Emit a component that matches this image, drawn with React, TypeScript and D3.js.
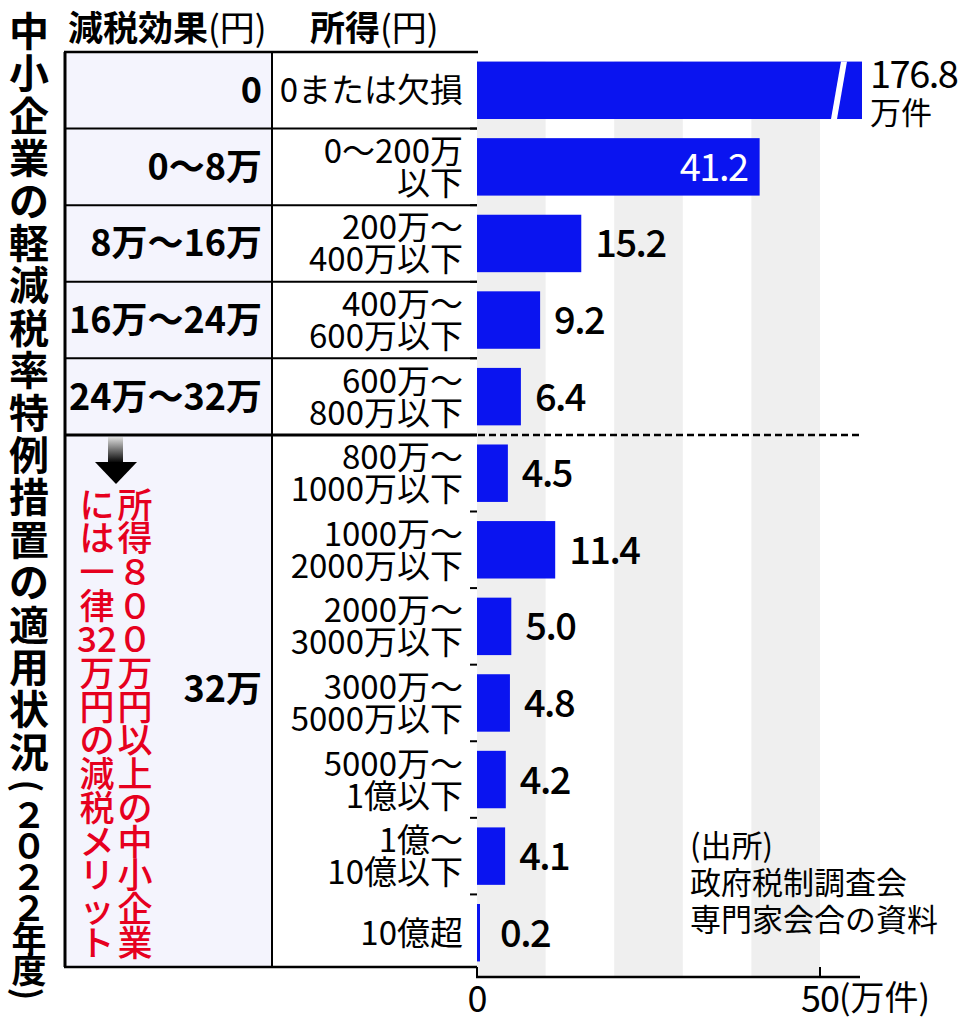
import React from 'react';
import * as d3 from 'd3';

// chart data
const incomeLabels: string[][] = [
  ['0または欠損'],
  ['0〜200万', '以下'],
  ['200万〜', '400万以下'],
  ['400万〜', '600万以下'],
  ['600万〜', '800万以下'],
  ['800万〜', '1000万以下'],
  ['1000万〜', '2000万以下'],
  ['2000万〜', '3000万以下'],
  ['3000万〜', '5000万以下'],
  ['5000万〜', '1億以下'],
  ['1億〜', '10億以下'],
  ['10億超'],
];
const counts = [176.8, 41.2, 15.2, 9.2, 6.4, 4.5, 11.4, 5.0, 4.8, 4.2, 4.1, 0.2];
const effectLabels = ['0', '0〜8万', '8万〜16万', '16万〜24万', '24万〜32万'];
const mergedEffect = '32万';
const xTicks = [0, 50];
const bandStops = [0, 10, 20, 30, 40, 50];
const titleMain = '中小企業の軽減税率特例措置の適用状況';
const titleSub = ['(', '２', '０', '２', '２', '年', '度', ')'];
const noteRight = ['所', '得', '８', '０', '０', '万', '円', '以', '上', 'の', '中', '小', '企', '業'];
const noteLeft = ['に', 'は', '一', '律', '32', '万', '円', 'の', '減', '税', 'メ', 'リ', 'ッ', 'ト'];
const sourceLines = ['(出所)', '政府税制調査会', '専門家会合の資料'];

const FONT = "'Noto Sans CJK JP', 'Noto Sans', sans-serif";
const BLUE = '#0a14f0';
const RED = '#e6001e';

export default function App() {
  const W = 974;
  const H = 1024;
  const tableL = 65, tableM = 272, tableR = 478, tableT = 52, tableB = 967;
  const axisY = 977;
  const axisEnd = 860;

  const x = d3.scaleLinear().domain([0, 50]).range([477, 820]);
  const xClip = x.invert(862);
  const y = d3
    .scaleBand<number>()
    .domain(d3.range(counts.length))
    .range([52, 971])
    .paddingInner(0.25)
    .paddingOuter(0.125);
  const step = y.step();
  const bw = y.bandwidth();
  const edge = (i: number) => tableT + i * step;
  const mid = (i: number) => (y(i) as number) + bw / 2;

  // title layout: one glyph per cell, parentheses turned sideways
  const titleX = 29;
  const mainPitch = 42.4;
  const subPos: { ch: string; cy: number }[] = [];
  let cursor = 775;
  titleSub.forEach((ch) => {
    const adv = ch === '(' || ch === ')' ? 22 : 31;
    subPos.push({ ch, cy: cursor + adv / 2 });
    cursor += adv;
  });

  const notePitch = 33.7;
  const noteTop = 502;

  return (
    <div style={{ position: 'absolute', left: 0, top: 0 }}>
      <svg width={W} height={H} style={{ display: 'block', background: '#fff' }} fontFamily={FONT}>
        <defs>
          <linearGradient id="arrowShaft" x1="0" y1="0" x2="0" y2="1">
            <stop offset="0%" stopColor="#e0e0e0" />
            <stop offset="100%" stopColor="#000" />
          </linearGradient>
        </defs>

        {/* vertical title */}
        {titleMain.split('').map((ch, i) => (
          <text key={'t' + i} x={titleX} y={29 + i * mainPitch} fontSize={40} fontWeight={700}
            textAnchor="middle" dominantBaseline="central">{ch}</text>
        ))}
        {subPos.map((d, i) => {
          const paren = d.ch === '(' || d.ch === ')';
          return (
            <text key={'s' + i} x={titleX} y={d.cy} fontSize={paren ? 34 : 35}
              fontWeight={700} textAnchor="middle" dominantBaseline="central"
              transform={paren ? `rotate(90 ${titleX} ${d.cy})` : undefined}>{d.ch}</text>
          );
        })}

        {/* headers */}
        <text x={68} y={41} fontSize={35}>
          <tspan fontWeight={700}>減税効果</tspan><tspan>(円)</tspan>
        </text>
        <text x={310} y={41} fontSize={35}>
          <tspan fontWeight={700}>所得</tspan><tspan>(円)</tspan>
        </text>

        {/* table */}
        <rect x={tableL} y={tableT} width={tableM - tableL} height={tableB - tableT} fill="#f4f4fd" />
        {[1, 2, 3, 4].map((i) => (
          <line key={'h' + i} x1={tableL} x2={tableR} y1={edge(i)} y2={edge(i)} stroke="#000" strokeWidth={2} />
        ))}
        <line x1={tableL} x2={tableR} y1={edge(5)} y2={edge(5)} stroke="#000" strokeWidth={3} />
        <line x1={tableL - 1} x2={tableR} y1={tableT} y2={tableT} stroke="#000" strokeWidth={2.5} />
        <line x1={tableL - 1} x2={tableR} y1={tableB} y2={tableB} stroke="#000" strokeWidth={2.5} />
        <line x1={tableL} x2={tableL} y1={tableT} y2={tableB} stroke="#000" strokeWidth={3} />
        <line x1={tableM} x2={tableM} y1={tableT} y2={tableB} stroke="#000" strokeWidth={2} />

        {effectLabels.map((t, i) => (
          <text key={'e' + i} x={tableM - 10} y={mid(i) + 13} fontSize={36} fontWeight={700} textAnchor="end">{t}</text>
        ))}
        <text x={tableM - 10} y={(edge(5) + tableB) / 2 + 1} fontSize={36} fontWeight={700} textAnchor="end">{mergedEffect}</text>

        {incomeLabels.map((lines, i) =>
          lines.length === 1 ? (
            <text key={'i' + i} x={463} y={mid(i) + 12} fontSize={33} textAnchor="end">{lines[0]}</text>
          ) : (
            <g key={'i' + i}>
              <text x={463} y={mid(i) - 16 + 12} fontSize={33} textAnchor="end">{lines[0]}</text>
              <text x={463} y={mid(i) + 16 + 12} fontSize={33} textAnchor="end">{lines[1]}</text>
            </g>
          )
        )}

        {/* arrow */}
        <rect x={108} y={437} width={15} height={26} fill="url(#arrowShaft)" />
        <polygon points="95,462 137,462 116,484" fill="#000" />

        {/* red vertical note */}
        {noteRight.map((ch, i) => (
          <text key={'nr' + i} x={135} y={noteTop + i * notePitch} fontSize={35} fontWeight={500} fill={RED}
            textAnchor="middle" dominantBaseline="central">{ch}</text>
        ))}
        {noteLeft.map((ch, i) => (
          <text key={'nl' + i} x={97} y={noteTop + i * notePitch} fontSize={35} fontWeight={500} fill={RED}
            textAnchor="middle" dominantBaseline="central">{ch}</text>
        ))}

        {/* gray bands */}
        {[0, 2, 4].map((k) => (
          <rect key={'b' + k} x={x(bandStops[k])} y={y(0) as number}
            width={x(bandStops[k + 1]) - x(bandStops[k])} height={axisY - (y(0) as number)} fill="#efefef" />
        ))}

        {/* y ticks */}
        {d3.range(counts.length).map((i) => (
          <line key={'yt' + i} x1={470} x2={477} y1={edge(i)} y2={edge(i)} stroke="#000" strokeWidth={2} />
        ))}

        {/* bars */}
        {counts.map((v, i) => {
          const w = Math.max(3, x(Math.min(v, xClip)) - x(0));
          return <rect key={'bar' + i} x={x(0)} y={y(i) as number} width={w} height={bw} fill={BLUE} />;
        })}
        {/* break mark on the first bar */}
        <polygon
          points={`${841},${y(0)} ${847},${y(0)} ${837},${(y(0) as number) + bw} ${831},${(y(0) as number) + bw}`}
          fill="#fff"
        />

        {/* dashed separator */}
        <line x1={tableR} x2={862} y1={edge(5)} y2={edge(5)} stroke="#000" strokeWidth={2.5} strokeDasharray="7 4" />

        {/* value labels */}
        {counts.map((v, i) => {
          if (i === 0) {
            return (
              <g key={'v' + i}>
                <text x={870} y={88} fontSize={38} letterSpacing={-1.5}>{v.toFixed(1)}</text>
                <text x={870} y={124} fontSize={31}>万件</text>
              </g>
            );
          }
          if (i === 1) {
            return (
              <text key={'v' + i} x={x(v) - 12} y={mid(i) + 14} fontSize={38} fill="#fff" textAnchor="end"
                letterSpacing={-1.5}>{v.toFixed(1)}</text>
            );
          }
          const end = Math.max(x(v), x(0) + 9);
          return (
            <text key={'v' + i} x={end + 14} y={mid(i) + 14} fontSize={38} fontWeight={500}
              letterSpacing={-1.5}>{v.toFixed(1)}</text>
          );
        })}

        {/* x axis */}
        <line x1={x(0) - 1} x2={axisEnd} y1={axisY} y2={axisY} stroke="#000" strokeWidth={2.5} />
        {xTicks.map((t) => (
          <line key={'xt' + t} x1={x(t)} x2={x(t)} y1={tableB} y2={axisY} stroke="#000" strokeWidth={2} />
        ))}
        {xTicks.map((t) => (
          <text key={'xl' + t} x={x(t)} y={1012} fontSize={36} textAnchor="middle" letterSpacing={-1}>{t}</text>
        ))}
        <text x={x(50) + 19} y={1010} fontSize={34}>(万件)</text>

        {/* source */}
        {sourceLines.map((s, i) => (
          <text key={'src' + i} x={690} y={857 + i * 37} fontSize={31}>{s}</text>
        ))}
      </svg>
    </div>
  );
}
